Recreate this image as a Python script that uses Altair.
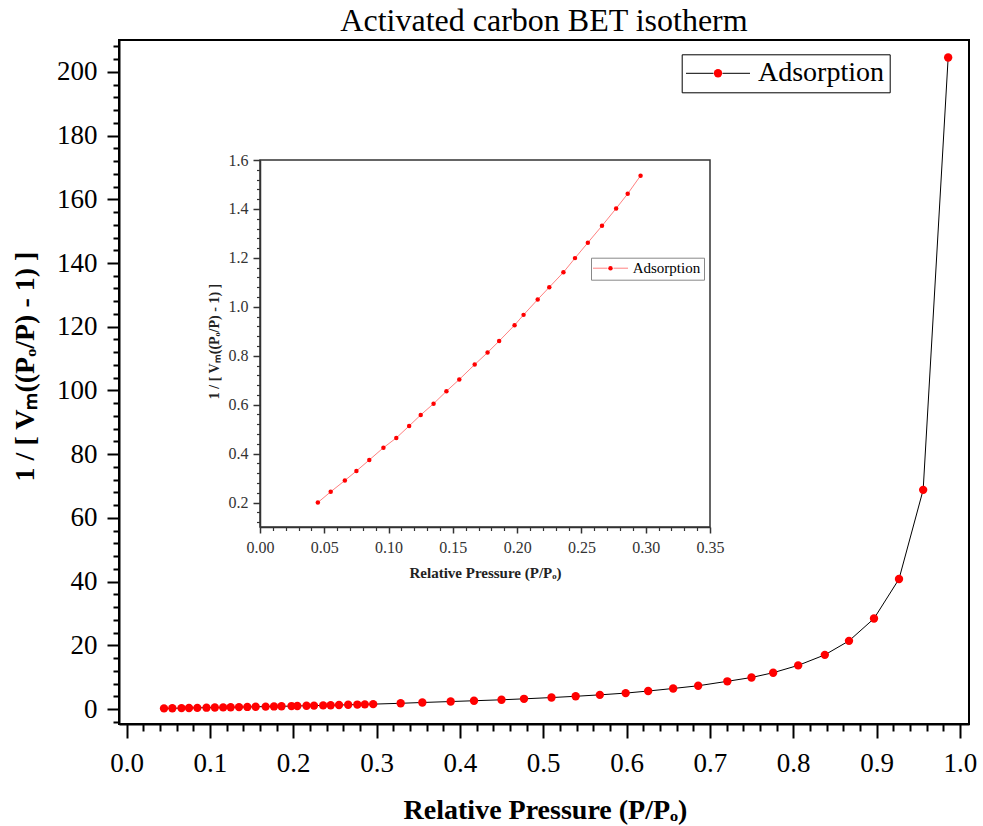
import altair as alt
import pandas as pd

FONT = "Liberation Serif"
series_name = "Adsorption"
chart_title = "Activated carbon BET isotherm"
x_title = "Relative Pressure (P/Pₒ)"
y_title = "1 / [ Vₘ((Pₒ/P) - 1) ]"

# low-pressure points (shown in both the main plot and the inset)
p_low = [0.045, 0.055, 0.066, 0.075, 0.085, 0.096, 0.106, 0.116, 0.125, 0.135,
         0.145, 0.155, 0.167, 0.177, 0.186, 0.198, 0.205, 0.216, 0.225, 0.236,
         0.245, 0.255, 0.266, 0.277, 0.286, 0.296]
v_low = [0.200, 0.244, 0.290, 0.329, 0.374, 0.424, 0.464, 0.513, 0.558, 0.604,
         0.655, 0.703, 0.764, 0.813, 0.860, 0.925, 0.967, 1.030, 1.080, 1.141,
         1.199, 1.262, 1.331, 1.402, 1.462, 1.536]
# high-pressure points (main plot only)
p_high = [0.329, 0.355, 0.389, 0.417, 0.450, 0.477, 0.510, 0.539, 0.568, 0.599,
          0.626, 0.656, 0.686, 0.721, 0.750, 0.776, 0.806, 0.838, 0.867, 0.897,
          0.927, 0.956, 0.986]
v_high = [1.80, 2.05, 2.35, 2.60, 2.90, 3.20, 3.60, 4.00, 4.45, 5.00,
          5.65, 6.45, 7.30, 8.70, 9.90, 11.4, 13.7, 17.0, 21.4, 28.4,
          40.8, 68.8, 204.5]

main_x_ticks = [0.0, 0.1, 0.2, 0.3, 0.4, 0.5, 0.6, 0.7, 0.8, 0.9, 1.0]
main_y_ticks = [0, 20, 40, 60, 80, 100, 120, 140, 160, 180, 200]
inset_x_ticks = [0.00, 0.05, 0.10, 0.15, 0.20, 0.25, 0.30, 0.35]
inset_y_ticks = [0.2, 0.4, 0.6, 0.8, 1.0, 1.2, 1.4, 1.6]

main_x_minor = [round(0.02 * i, 2) for i in range(51) if i % 5]
main_y_minor = [4 * i for i in range(-1, 53) if i % 5]
inset_x_minor = [round(0.01 * i, 2) for i in range(1, 35) if i % 5]
inset_y_minor = [round(0.04 * i, 2) for i in range(3, 40) if i % 5]

main_x_domain = [-0.009, 1.011]
main_y_domain = [-4.7, 210]
inset_x_domain = [0.0, 0.35]
inset_y_domain = [0.1, 1.6]

W, H = 850, 684
inset_x_range = [141, 591]
inset_y_range = [487, 120]

main_df = pd.DataFrame({"p": p_low + p_high, "v": v_low + v_high, "s": series_name})
inset_df = pd.DataFrame({"p": p_low, "v": v_low, "s": series_name})
frame_df = pd.DataFrame({"x0": [inset_x_domain[0]], "x1": [inset_x_domain[1]],
                         "y0": [inset_y_domain[0]], "y1": [inset_y_domain[1]]})

mxs = alt.Scale(domain=main_x_domain, nice=False, zero=False)
mys = alt.Scale(domain=main_y_domain, nice=False, zero=False)
ixs = alt.Scale(domain=inset_x_domain, range=inset_x_range, nice=False, zero=False)
iys = alt.Scale(domain=inset_y_domain, range=inset_y_range, nice=False, zero=False)

main_x_axis = alt.Axis(orient="bottom", values=main_x_ticks, format=".1f", grid=False,
                       tickSize=14, tickWidth=2, tickColor="black",
                       domainColor="black", domainWidth=2,
                       labelFont=FONT, labelFontSize=27, labelColor="black", labelPadding=12,
                       labelFlush=False, labelOverlap=False,
                       title=x_title, titleFont=FONT, titleFontSize=28, titleFontWeight="bold",
                       titleColor="black", titleX=426, titleY=94, titleAlign="center",
                       titleBaseline="alphabetic")
main_y_axis = alt.Axis(orient="left", values=main_y_ticks, format="d", grid=False,
                       tickSize=12, tickWidth=2, tickColor="black",
                       domainColor="black", domainWidth=2,
                       labelFont=FONT, labelFontSize=27, labelColor="black", labelPadding=10,
                       labelOverlap=False,
                       title=y_title, titleFont=FONT, titleFontSize=28, titleFontWeight="bold",
                       titleColor="black", titleAngle=270, titleX=-86, titleY=326,
                       titleAlign="center", titleBaseline="alphabetic")
main_x_minor_axis = alt.Axis(orient="bottom", values=main_x_minor, grid=False, labels=False,
                             domain=False, tickSize=7, tickWidth=2, tickColor="black", title=None)
main_y_minor_axis = alt.Axis(orient="left", values=main_y_minor, grid=False, labels=False,
                             domain=False, tickSize=6, tickWidth=2, tickColor="black", title=None)

inset_x_axis = alt.Axis(orient="bottom", offset=-197, values=inset_x_ticks, format=".2f", grid=False,
                        tickSize=6, tickWidth=1.5, tickColor="#333",
                        domainColor="#333", domainWidth=1.5,
                        labelFont=FONT, labelFontSize=16, labelColor="#333", labelPadding=6,
                        labelFlush=False, labelOverlap=False,
                        title=x_title, titleFont=FONT, titleFontSize=15, titleFontWeight="bold",
                        titleColor="#222", titleX=366, titleY=50, titleAlign="center",
                        titleBaseline="alphabetic")
inset_y_axis = alt.Axis(orient="left", offset=-141, values=inset_y_ticks, format=".1f", grid=False,
                        tickSize=7, tickWidth=1.5, tickColor="#333",
                        domainColor="#333", domainWidth=1.5,
                        labelFont=FONT, labelFontSize=16, labelColor="#333", labelPadding=5,
                        labelOverlap=False,
                        title=y_title, titleFont=FONT, titleFontSize=14, titleFontWeight="bold",
                        titleColor="#222", titleAngle=270, titleX=-42, titleY=301,
                        titleAlign="center", titleBaseline="alphabetic")
inset_x_minor_axis = alt.Axis(orient="bottom", offset=-197, values=inset_x_minor, grid=False,
                              labels=False, domain=False, tickSize=3.5, tickWidth=1.2,
                              tickColor="#333", title=None)
inset_y_minor_axis = alt.Axis(orient="left", offset=-141, values=inset_y_minor, grid=False,
                              labels=False, domain=False, tickSize=3.5, tickWidth=1.2,
                              tickColor="#333", title=None)

legend_main_line = alt.Legend(orient="none", legendX=562.7, legendY=14.3, title=None,
                              symbolType="M-6.4,0H-0.9M0.9,0H6.4", symbolSize=100,
                              symbolStrokeWidth=1, symbolOffset=17.3, labelOffset=26,
                              labelFont=FONT, labelFontSize=28, labelColor="black", labelLimit=400,
                              padding=5, strokeColor="black", fillColor="white")
legend_main_dot = alt.Legend(orient="none", legendX=594.5, legendY=28.8, title=None,
                             symbolType="circle", symbolSize=70, symbolStrokeWidth=0,
                             labelFontSize=1, labelExpr="''", labelOffset=0, padding=0)
legend_inset_line = alt.Legend(orient="none", legendX=472, legendY=217.7, title=None,
                               symbolType="M-8.75,0H-1.5M1.5,0H8.75", symbolSize=16,
                               symbolStrokeWidth=1, symbolOffset=9, labelOffset=14.7,
                               labelFont=FONT, labelFontSize=15, labelColor="black", labelLimit=400,
                               padding=3, strokeColor="#888", fillColor="white")
legend_inset_dot = alt.Legend(orient="none", legendX=489, legendY=225.7, title=None,
                              symbolType="circle", symbolSize=20, symbolStrokeWidth=0,
                              labelFontSize=1, labelExpr="''", labelOffset=0, padding=0)

mx = alt.X("p:Q", scale=mxs, axis=main_x_axis)
my = alt.Y("v:Q", scale=mys, axis=main_y_axis)
main_line = alt.Chart(main_df).mark_line(strokeWidth=1).encode(
    x=mx, y=my,
    stroke=alt.Stroke("s:N", scale=alt.Scale(range=["black"]), legend=legend_main_line),
)
main_pts = alt.Chart(main_df).mark_circle(size=70, opacity=1).encode(
    x=mx, y=my,
    fill=alt.Fill("s:N", scale=alt.Scale(range=["#ff0000"]), legend=legend_main_dot),
)
main = alt.layer(main_line, main_pts)
main_minor = alt.Chart(main_df).mark_point(opacity=0).encode(
    x=alt.X("p:Q", scale=mxs, axis=main_x_minor_axis),
    y=alt.Y("v:Q", scale=mys, axis=main_y_minor_axis),
)

ix = alt.X("p:Q", scale=ixs, axis=inset_x_axis)
iy = alt.Y("v:Q", scale=iys, axis=inset_y_axis)
inset_frame = alt.Chart(frame_df).mark_rect(fillOpacity=0, stroke="#333", strokeWidth=1.5).encode(
    x=alt.X("x0:Q", scale=ixs, axis=inset_x_axis), x2="x1:Q",
    y=alt.Y("y0:Q", scale=iys, axis=inset_y_axis), y2="y1:Q",
)
inset_line = alt.Chart(inset_df).mark_line(strokeWidth=1).encode(
    x=ix, y=iy,
    stroke=alt.Stroke("s:N", scale=alt.Scale(range=["#ff8080"]), legend=legend_inset_line),
)
inset_pts = alt.Chart(inset_df).mark_circle(size=20, opacity=1).encode(
    x=ix, y=iy,
    fill=alt.Fill("s:N", scale=alt.Scale(range=["#ff0000"]), legend=legend_inset_dot),
)
inset = alt.layer(inset_frame, inset_line, inset_pts)
inset_minor = alt.Chart(inset_df).mark_point(opacity=0).encode(
    x=alt.X("p:Q", scale=ixs, axis=inset_x_minor_axis),
    y=alt.Y("v:Q", scale=iys, axis=inset_y_minor_axis),
)

chart = alt.layer(main_minor, main, inset_minor, inset).resolve_scale(
    x="independent", y="independent", stroke="independent", fill="independent"
).properties(
    width=W, height=H,
    title=alt.TitleParams(text=chart_title, font=FONT, fontSize=32, fontWeight="normal",
                          color="black", anchor="middle", offset=2),
    autosize=alt.AutoSizeParams(type="none"),
    padding={"left": 119, "top": 40, "right": 14, "bottom": 102},
    background="white",
).configure_view(stroke="black", strokeWidth=2)

chart.save("out.html", embed_options={"renderer": "svg", "actions": False})
